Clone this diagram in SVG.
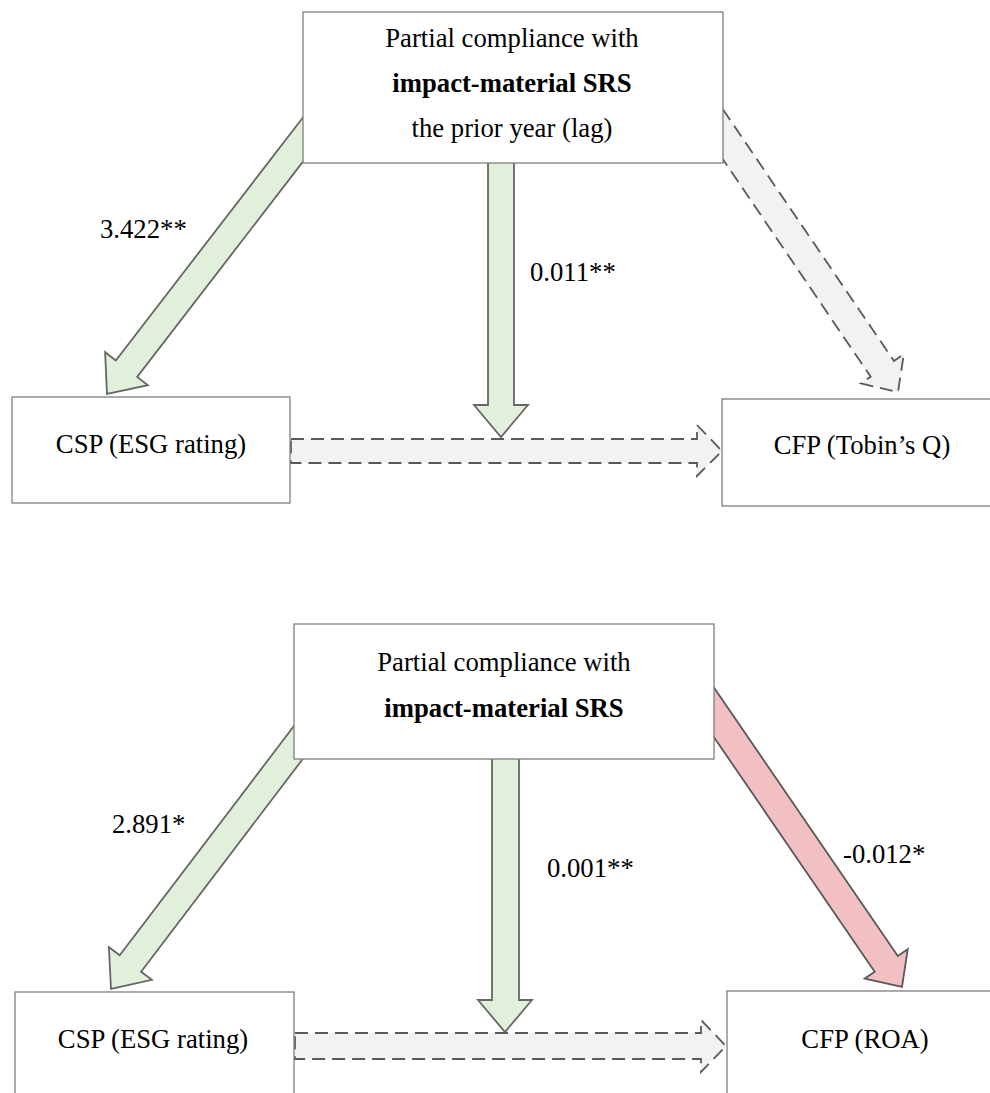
<svg xmlns="http://www.w3.org/2000/svg" width="990" height="1093" viewBox="0 0 990 1093">
<style>
.box{fill:#ffffff;stroke:#7f7f7f;stroke-width:1.3}
.green{fill:#e2efda;stroke:#666666;stroke-width:1.8;stroke-linejoin:miter}
.red{fill:#f2c0c2;stroke:#595959;stroke-width:1.8}
.gray{fill:#f2f2f2;stroke:#595959;stroke-width:1.8;stroke-dasharray:13 7}
text{font-family:"Liberation Serif","Times New Roman",serif;font-size:26.7px;fill:#000}
.c{text-anchor:middle}
.b{font-weight:bold}
</style>
<rect width="990" height="1093" fill="#ffffff"/>
<g id="connectors">
  <polygon class="green" points="319.3,96.2 115.8,360.5 105.1,352.2 107,394 147.9,385.2 137.2,376.9 340.7,112.6"/>
  <polygon class="green" points="488,150 488,405 474,405 501,437 528,405 514,405 514,150"/>
  <polygon class="gray" points="711.6,92.7 893.9,360.9 903.8,354.2 898,392 860.8,383.4 870.7,376.7 688.4,108.5"/>
  <polygon class="gray" points="291,439 697,439 697,425 722,451 697,476 697,463 291,463"/>
  <polygon class="green" points="309.3,705.8 119.7,955.3 108.9,947.2 111,989 151.9,979.8 141.1,971.7 330.7,722.2"/>
  <polygon class="green" points="492,740 492,1000 478,1000 505,1032 532,1000 519,1000 519,740"/>
  <polygon class="red" points="701.6,669.6 897.8,956 907.7,949.2 902,987 864.7,978.6 874.7,971.8 678.5,685.4"/>
  <polygon class="gray" points="295,1033 701,1033 701,1020 726,1046 701,1072 701,1059 295,1059"/>
</g>
<g id="top-source">
  <rect class="box" x="303" y="12" width="420" height="151"/>
  <text class="c" x="512" y="47">Partial compliance with</text>
  <text class="c b" x="512" y="92">impact-material SRS</text>
  <text class="c" x="512" y="137">the prior year (lag)</text>
</g>
<g id="top-csp">
  <rect class="box" x="12" y="397" width="278" height="106"/>
  <text class="c" x="151" y="453">CSP (ESG rating)</text>
</g>
<g id="top-cfp">
  <rect class="box" x="722" y="399" width="290" height="107"/>
  <text class="c" x="862" y="454">CFP (Tobin’s Q)</text>
</g>
<g id="bottom-source">
  <rect class="box" x="294" y="624" width="420" height="135"/>
  <text class="c" x="504" y="671">Partial compliance with</text>
  <text class="c b" x="504" y="717">impact-material SRS</text>
</g>
<g id="bottom-csp">
  <rect class="box" x="15" y="992" width="279" height="120"/>
  <text class="c" x="153" y="1048">CSP (ESG rating)</text>
</g>
<g id="bottom-cfp">
  <rect class="box" x="727" y="991" width="290" height="120"/>
  <text class="c" x="865" y="1048">CFP (ROA)</text>
</g>
<g id="labels">
  <text x="100" y="238">3.422**</text>
  <text x="530" y="281">0.011**</text>
  <text x="112" y="833">2.891*</text>
  <text x="547" y="877">0.001**</text>
  <text x="843" y="863">-0.012*</text>
</g>
</svg>
